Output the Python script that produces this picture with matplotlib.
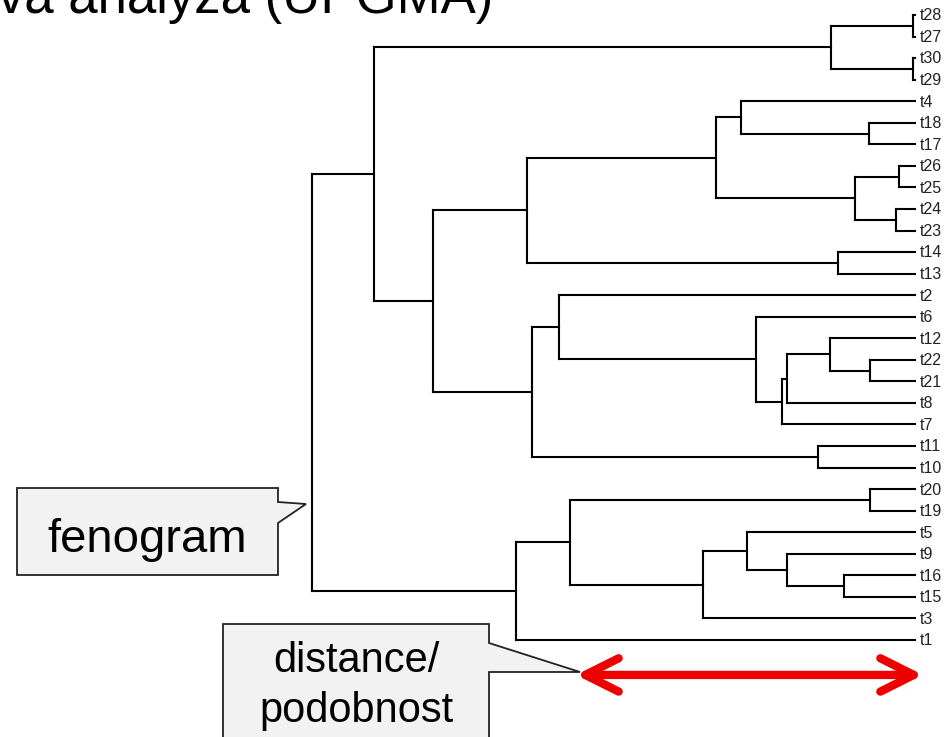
import matplotlib
matplotlib.use('Agg')
import matplotlib.pyplot as plt
from matplotlib.patches import Polygon

plt.rcParams['font.family'] = ['Liberation Sans', 'DejaVu Sans']

# listy shora dolu
leaves = ['t28', 't27', 't30', 't29', 't4', 't18', 't17', 't26', 't25', 't24',
          't23', 't14', 't13', 't2', 't6', 't12', 't22', 't21', 't8', 't7',
          't11', 't10', 't20', 't19', 't5', 't9', 't16', 't15', 't3', 't1']

# spojeni (UPGMA): levy, pravy, vyska uzlu
merge_left = ['t28', 't30', 'n0', 't18', 't4', 't26', 't24', 'n5', 'n4', 't14',
              'n8', 't22', 't12', 'n12', 'n13', 't6', 't2', 't11', 'n16', 'n10',
              'n2', 't20', 't16', 't9', 't5', 'n24', 'n21', 'n26', 'n20']
merge_right = ['t27', 't29', 'n1', 't17', 'n3', 't25', 't23', 'n6', 'n7', 't13',
               'n9', 't21', 'n11', 't8', 't7', 'n14', 'n15', 't10', 'n17', 'n18',
               'n19', 't19', 't15', 'n22', 'n23', 't3', 'n25', 't1', 'n27']
merge_height = [0.02, 0.02, 0.84, 0.46, 1.74, 0.16, 0.19, 0.60, 1.99, 0.77,
                3.88, 0.45, 0.85, 1.28, 1.33, 1.59, 3.56, 0.97, 3.83, 4.82,
                5.41, 0.45, 0.71, 1.28, 1.68, 2.12, 3.45, 3.99, 6.03]

fig = plt.figure(figsize=(9.51, 7.37), dpi=100)
ax = fig.add_axes([0, 0, 1, 1])
ax.set_xlim(9.15, -0.36)
ax.set_ylim(33.5, -0.696)
ax.axis('off')

pos = {name: (0.0, i) for i, name in enumerate(leaves)}
for k, (a, b, h) in enumerate(zip(merge_left, merge_right, merge_height)):
    xa, ya = pos[a]
    xb, yb = pos[b]
    ax.plot([xa, h], [ya, ya], color='black', lw=1.5, solid_capstyle='projecting')
    ax.plot([xb, h], [yb, yb], color='black', lw=1.5, solid_capstyle='projecting')
    ax.plot([h, h], [ya, yb], color='black', lw=1.5, solid_capstyle='projecting')
    pos['n%d' % k] = (h, (ya + yb) / 2)

for i, name in enumerate(leaves):
    ax.text(-0.05, i + 0.04, name, va='center', ha='left', fontsize=11.5, color='#222222')

# sipka - meritko vzdalenosti
ax.annotate('', xy=(-0.08, 30.62), xytext=(3.39, 30.62),
            arrowprops=dict(arrowstyle='<->,head_length=1.2,head_width=0.6',
                            color='#ee0000', lw=6, shrinkA=0, shrinkB=0,
                            mutation_scale=20, capstyle='round', joinstyle='round'))

# popisky v pixelech
ov = fig.add_axes([0, 0, 1, 1])
ov.set_xlim(0, 951)
ov.set_ylim(737, 0)
ov.axis('off')
ov.patch.set_alpha(0)

ov.add_patch(Polygon([(17, 488), (278, 488), (278, 502), (306, 504), (278, 523),
                      (278, 575), (17, 575)], closed=True,
                     facecolor='#f2f2f2', edgecolor='#222222', lw=1.3))
ov.text(147, 552, 'fenogram', ha='center', va='baseline', fontsize=34, color='black')

ov.add_patch(Polygon([(223, 624), (489, 624), (489, 643), (580, 672), (489, 672),
                      (489, 760), (223, 760)], closed=True,
                     facecolor='#f2f2f2', edgecolor='#222222', lw=1.3))
ov.text(356, 672, 'distance/', ha='center', va='baseline', fontsize=30, color='black')
ov.text(356, 722, 'podobnost', ha='center', va='baseline', fontsize=30, color='black')

# nadpis je v originale nahore oriznuty
ov.text(493, 13, 'Shluková analýza (UPGMA)', ha='right', va='baseline',
        fontsize=38, color='black')

fig.savefig('out.png', dpi=100)
